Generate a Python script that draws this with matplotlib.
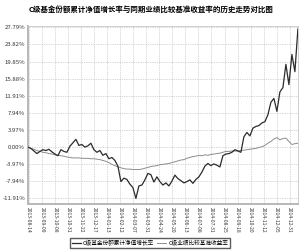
import matplotlib
matplotlib.use("Agg")
import matplotlib.pyplot as plt
import numpy as np

plt.rcParams['font.family'] = ['Noto Sans CJK SC', 'DejaVu Sans']

# Data (cumulative returns, %)
nav = [0.0, -0.3, -0.9, -1.5, -1.0, -0.6, -0.8, -0.5, -1.1, -1.6,
       -2.0, -0.6, -1.0, -1.2, 0.2, 1.0, 1.8, 0.4, 0.6, 0.0,
       0.3, 0.9, -0.6, -1.2, -0.8, -1.9, -1.5, -2.7, -2.4, -3.1,
       -4.4, -8.0, -7.2, -7.5, -8.6, -9.4, -11.9, -9.0, -8.8, -7.6,
       -6.1, -6.4, -8.1, -6.9, -8.0, -8.8, -8.3, -9.0, -7.9, -6.5,
       -7.3, -7.8, -8.3, -8.0, -7.6, -8.4, -7.5, -6.9, -5.8, -4.4,
       -3.8, -4.3, -3.9, -4.2, -4.6, -2.0, -1.6, -1.5, -1.2, -0.6,
       -0.9, -1.2, 2.4, 3.4, 2.6, 4.4, 4.8, 5.0, 5.6, 5.9,
       7.5, 10.4, 11.3, 8.3, 12.8, 13.8, 19.2, 14.5, 21.5, 17.5, 27.4]
bench = [0.0, -0.3, -0.5, -0.8, -1.0, -1.2, -1.3, -1.5, -1.6, -1.8,
         -1.9, -2.0, -2.1, -2.3, -2.4, -2.5, -2.5, -2.5, -2.6, -2.6,
         -2.6, -2.7, -2.7, -2.8, -2.9, -3.1, -3.3, -3.6, -4.0, -4.3,
         -4.6, -4.8, -5.0, -5.1, -5.1, -5.2, -5.2, -5.2, -5.1, -4.9,
         -4.7, -4.5, -4.4, -4.3, -4.1, -4.0, -3.9, -3.8, -3.6, -3.4,
         -3.2, -3.0, -2.9, -2.6, -2.4, -2.2, -2.1, -1.9, -2.0, -1.8,
         -1.9, -1.7, -1.6, -1.5, -1.4, -1.2, -1.0, -1.0, -0.9, -0.9,
         -0.9, -0.8, -0.7, -0.6, -0.5, -0.4, -0.3, -0.1, 0.1, 0.4,
         0.9, 1.3, 1.9, 2.2, 1.7, 2.0, 2.1, 1.3, 0.6, 0.8, 0.9]
date_labels = ["2013-08-14", "2013-09-09", "2013-10-08", "2013-10-31", "2013-11-22",
               "2013-12-17", "2014-01-13", "2014-02-12", "2014-03-07", "2014-03-31",
               "2014-04-24", "2014-05-20", "2014-06-13", "2014-07-08", "2014-07-31",
               "2014-08-25", "2014-09-18", "2014-10-20", "2014-11-12", "2014-12-05",
               "2014-12-31"]
y_ticks = [-11.91, -7.94, -3.97, 0.00, 3.97, 7.94, 11.91, 15.88, 19.85, 23.82, 27.79]

title = "C级基金份额累计净值增长率与同期业绩比较基准收益率的历史走势对比图"
nav_label = "C级基金份额累计净值增长率"
bench_label = "C级业绩比较基准收益率"

fig = plt.figure(figsize=(3.0, 2.5), dpi=100)
ax = fig.add_axes([0.093, 0.184, 0.9, 0.712])

x = np.arange(len(nav))
ax.plot(x, nav, color='#2b2b2b', lw=0.9, label=nav_label, zorder=3)
ax.plot(x, bench, color='#8c8c8c', lw=0.7, label=bench_label, zorder=2)

ax.set_xlim(0, len(nav) - 1)
ax.set_ylim(-13.2, 28.1)
ax.set_yticks(y_ticks)
ax.set_yticklabels([f"{v:.2f}%" for v in y_ticks], fontsize=4.3, color='#333333')
ax.set_xticks(np.linspace(0.3, 87.3, len(date_labels)))
ax.set_xticklabels(date_labels, rotation=-90, fontsize=3.6, color='#333333')
ax.tick_params(length=0, pad=2)

ax.grid(True, color='#b0b0b0', ls=(0, (1, 1.5)), lw=0.5)
for side in ['top', 'right']:
    ax.spines[side].set_color('#c8c8c8')
    ax.spines[side].set_linewidth(0.6)
for side in ['left', 'bottom']:
    ax.spines[side].set_color('#b8b8b8')
    ax.spines[side].set_linewidth(1.4)

fig.text(0.505, 0.964, title, ha='center', va='center', fontsize=5.4, weight='bold')

fig.legend(loc='center', bbox_to_anchor=(0.5, 0.028), ncol=2, fontsize=4.1,
           frameon=True, fancybox=False, edgecolor='#333333', handlelength=1.6,
           handletextpad=0.3, columnspacing=0.6, borderpad=0.3)

fig.savefig("out.png", dpi=100)
